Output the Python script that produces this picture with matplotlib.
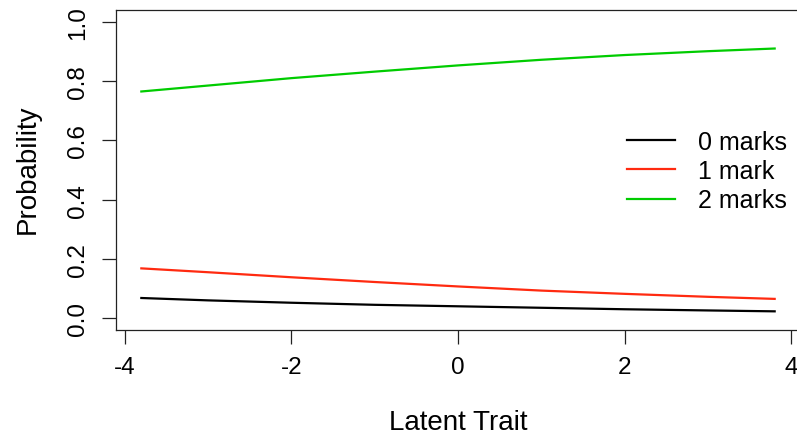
import matplotlib
matplotlib.use("Agg")
import matplotlib.pyplot as plt

plt.rcParams['font.family'] = ['Liberation Sans', 'DejaVu Sans']

theta = [-3.8, -3.0, -2.0, -1.0, 0.0, 1.0, 2.0, 3.0, 3.8]
p0 = [0.068, 0.060, 0.052, 0.045, 0.040, 0.035, 0.030, 0.026, 0.023]
p1 = [0.168, 0.155, 0.138, 0.122, 0.107, 0.093, 0.082, 0.072, 0.065]
p2 = [0.765, 0.785, 0.810, 0.832, 0.853, 0.872, 0.888, 0.901, 0.910]
labels = ["0 marks", "1 mark", "2 marks"]
colors = ["#000000", "#FF2A10", "#00CC00"]
xticks = [-4, -2, 0, 2, 4]
yticks = [0.0, 0.2, 0.4, 0.6, 0.8, 1.0]

W, H = 797, 435
fig = plt.figure(figsize=(W / 100, H / 100), dpi=100)
ax = fig.add_axes([116 / W, (H - 331) / H, (800 - 116) / W, (331 - 11) / H])

for y, c, lab in zip([p0, p1, p2], colors, labels):
    ax.plot(theta, y, color=c, lw=1.6, label=lab)

ax.set_xlim(-4.104, 4.104)
ax.set_ylim(-0.04, 1.04)
ax.set_xticks(xticks)
ax.set_xticklabels([str(t) for t in xticks])
ax.set_yticks(yticks)
ax.set_yticklabels([f"{t:.1f}" for t in yticks], rotation=90, va='center')
ax.tick_params(axis='both', length=9.8, width=0.9, labelsize=17.5, color='#222222')
ax.tick_params(axis='x', pad=8.6)
ax.tick_params(axis='y', pad=9.5)
for s in ax.spines.values():
    s.set_linewidth(0.9)
    s.set_color('#222222')

fig.text(458 / W, 1 - 430 / H, "Latent Trait", ha='center', va='baseline', fontsize=20)
fig.text(35 / W, 1 - 169 / H, "Probability", ha='center', va='baseline', fontsize=20,
         rotation=90, rotation_mode='anchor')

ax.legend(loc='center left', bbox_to_anchor=(627 / W, 1 - 172 / H), bbox_transform=fig.transFigure,
          frameon=False, fontsize=18, handlelength=1.92, handletextpad=0.92, labelspacing=0.21,
          borderpad=0, borderaxespad=0)

fig.savefig("out.png", dpi=100)
